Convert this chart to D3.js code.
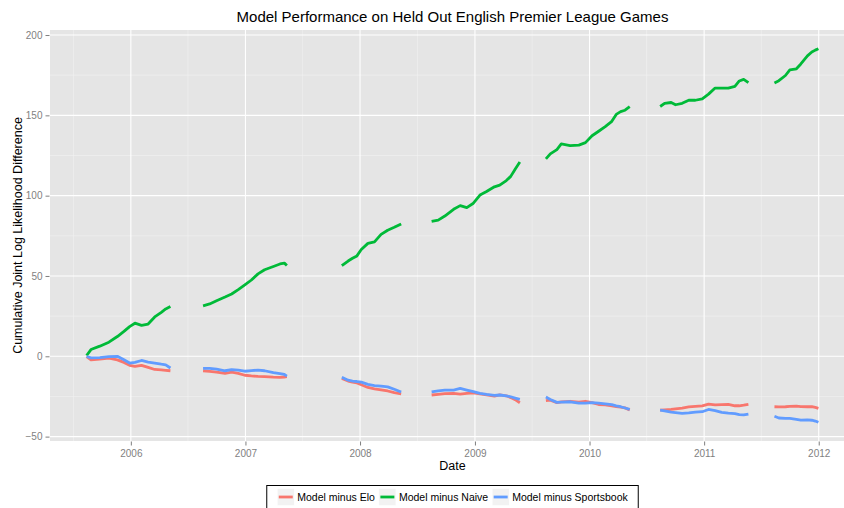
<!DOCTYPE html>
<html>
<head>
<meta charset="utf-8">
<script src="https://cdn.jsdelivr.net/npm/d3@7"></script>
<style>
  html, body { margin: 0; padding: 0; background: #ffffff; }
  svg { display: block; font-family: "Liberation Sans", Arial, Helvetica, sans-serif; }
</style>
</head>
<body>
<svg id="chart" width="844" height="508"></svg>
<script>
// ---------------- data ----------------
const seriesNames = ["Model minus Elo", "Model minus Naive", "Model minus Sportsbook"];
const seriesColors = ["#F8766D", "#00BA38", "#619CFF"];

const dates = [
  // 2005-06
  "2005-08-13","2005-08-27","2005-09-24","2005-10-23","2005-11-19","2005-12-10","2005-12-28",
  "2006-01-14","2006-02-04","2006-02-25","2006-03-18","2006-04-08","2006-04-22","2006-05-07",
  // 2006-07
  "2006-08-19","2006-09-09","2006-10-01","2006-10-28","2006-11-18","2006-12-09","2006-12-30",
  "2007-01-20","2007-02-10","2007-03-03","2007-03-31","2007-04-21","2007-05-05","2007-05-13",
  // 2007-08
  "2007-11-04","2007-11-24","2007-12-08","2007-12-22","2008-01-05","2008-01-26","2008-02-16",
  "2008-03-08","2008-03-29","2008-04-19","2008-05-11",
  // 2008-09
  "2008-08-16","2008-09-06","2008-09-27","2008-10-25","2008-11-15","2008-12-06","2008-12-27",
  "2009-01-17","2009-02-07","2009-03-04","2009-03-21","2009-04-11","2009-04-25","2009-05-09","2009-05-24",
  // 2009-10
  "2009-08-15","2009-08-29","2009-09-19","2009-10-03","2009-10-31","2009-11-28","2009-12-19",
  "2010-01-09","2010-01-30","2010-02-20","2010-03-13","2010-03-27","2010-04-10","2010-04-24","2010-05-09",
  // 2010-11
  "2010-08-14","2010-08-28","2010-09-18","2010-10-02","2010-10-23","2010-11-13","2010-12-04","2010-12-26",
  "2011-01-15","2011-02-05","2011-02-26","2011-03-19","2011-04-09","2011-04-23","2011-05-07","2011-05-22",
  // 2011-12
  "2011-08-13","2011-08-27","2011-09-17","2011-10-01","2011-10-22","2011-11-05","2011-11-26",
  "2011-12-10","2011-12-21","2011-12-31"
];

const season = [
  1,1,1,1,1,1,1,1,1,1,1,1,1,1,
  2,2,2,2,2,2,2,2,2,2,2,2,2,2,
  3,3,3,3,3,3,3,3,3,3,3,
  4,4,4,4,4,4,4,4,4,4,4,4,4,4,4,
  5,5,5,5,5,5,5,5,5,5,5,5,5,5,5,
  6,6,6,6,6,6,6,6,6,6,6,6,6,6,6,6,
  7,7,7,7,7,7,7,7,7,7
];

const eloDiff = [
  -0.2,-2.2,-1.7,-1.2,-2.2,-3.8,-5.6,-6.3,-5.6,-6.9,-8.2,-8.4,-8.7,-9.0,
  -9.0,-9.4,-9.9,-10.6,-9.8,-10.6,-11.8,-12.2,-12.5,-12.7,-13.0,-13.1,-12.9,-12.7,
  -13.8,-15.4,-16.1,-16.6,-17.7,-19.4,-20.3,-20.9,-21.6,-22.6,-23.4,
  -24.1,-23.7,-23.3,-23.1,-23.5,-23.1,-22.7,-23.4,-24.0,-24.8,-24.0,-24.6,-25.7,-27.0,-28.9,
  -27.6,-27.3,-28.9,-28.4,-28.0,-28.6,-28.0,-28.8,-30.0,-30.3,-30.9,-31.3,-31.6,-32.1,-33.4,
  -33.5,-33.3,-33.1,-32.7,-32.2,-31.5,-31.2,-30.8,-29.8,-30.3,-30.1,-29.9,-30.8,-30.8,-30.4,-29.9,
  -31.4,-31.5,-31.4,-31.2,-31.0,-31.3,-31.4,-31.3,-31.8,-32.4
];

const naiveDiff = [
  0.5,4.2,6.3,8.8,12.3,15.5,18.5,20.6,19.3,20.1,24.5,27.4,29.5,31.0,
  31.4,32.6,34.6,36.9,38.8,41.5,44.4,47.5,51.3,53.9,55.9,57.5,58.0,56.5,
  56.4,59.3,61.0,62.5,66.5,70.3,71.2,75.9,78.5,80.3,82.4,
  84.0,84.8,87.3,91.5,93.8,92.6,95.3,100.4,102.6,105.5,106.6,109.4,112.0,116.5,121.0,
  122.9,126.0,128.7,132.2,131.2,131.5,133.0,137.3,140.1,143.0,146.3,150.6,152.3,153.2,155.4,
  155.5,157.4,158.0,156.6,157.5,159.4,159.4,160.3,163.2,167.0,166.9,166.9,168.0,171.4,172.4,170.4,
  170.2,171.6,174.8,178.3,179.0,182.0,187.0,189.4,190.6,191.5
];

const sportsbookDiff = [
  -0.1,-1.0,-0.8,-0.2,0.0,-2.2,-4.2,-3.8,-2.6,-3.6,-4.2,-4.9,-5.3,-7.3,
  -7.5,-7.5,-8.0,-9.0,-8.3,-8.6,-9.3,-8.9,-8.6,-9.0,-10.2,-10.8,-11.3,-12.3,
  -13.1,-14.9,-15.5,-15.7,-16.1,-17.5,-18.2,-18.6,-19.0,-20.5,-22.2,
  -22.1,-21.5,-21.0,-21.0,-20.0,-21.0,-22.0,-23.1,-23.7,-24.3,-24.1,-24.6,-25.2,-26.0,-26.8,
  -25.4,-26.9,-28.7,-28.5,-28.3,-29.2,-29.1,-28.9,-29.2,-29.6,-30.1,-30.8,-31.4,-32.2,-33.0,
  -33.5,-34.0,-34.7,-35.0,-35.5,-35.2,-34.8,-34.5,-33.1,-33.8,-34.9,-35.4,-35.7,-36.3,-36.5,-36.0,
  -37.3,-38.4,-38.6,-38.7,-39.2,-39.7,-39.6,-39.8,-40.3,-41.1
];

const yTicks = [-50, 0, 50, 100, 150, 200];
const yMinor = [-25, 25, 75, 125, 175];
const xTickYears = [2006, 2007, 2008, 2009, 2010, 2011, 2012];

// ---------------- layout ----------------
const svg = d3.select("#chart");
const panel = { left: 50, top: 30, right: 855, bottom: 441 };

const parse = d3.utcParse("%Y-%m-%d");
const dateObjs = dates.map(parse);
const allSeries = [eloDiff, naiveDiff, sportsbookDiff];

// ggplot-style 5% expansion
const tExt = d3.extent(dateObjs);
const tPad = (tExt[1] - tExt[0]) * 0.05;
const x = d3.scaleUtc()
  .domain([new Date(+tExt[0] - tPad), new Date(+tExt[1] + tPad)])
  .range([panel.left, panel.right]);

const vals = allSeries.flat();
const vExt = d3.extent(vals);
const vPad = (vExt[1] - vExt[0]) * 0.05;
const y = d3.scaleLinear()
  .domain([vExt[0] - vPad, vExt[1] + vPad])
  .range([panel.bottom, panel.top]);

const xTicks = xTickYears.map(yr => new Date(Date.UTC(yr, 0, 1)));
const xMinor = d3.range(2005, 2013).map(yr => new Date(Date.UTC(yr, 6, 2)));

// clip for panel
svg.append("defs").append("clipPath").attr("id", "clip")
  .append("rect")
  .attr("x", panel.left).attr("y", panel.top)
  .attr("width", panel.right - panel.left).attr("height", panel.bottom - panel.top);

// panel background
svg.append("rect")
  .attr("x", panel.left).attr("y", panel.top)
  .attr("width", panel.right - panel.left).attr("height", panel.bottom - panel.top)
  .attr("fill", "#E5E5E5");

const grid = svg.append("g").attr("clip-path", "url(#clip)");
// minor grid
grid.selectAll(".ymin").data(yMinor).join("line")
  .attr("x1", panel.left).attr("x2", panel.right)
  .attr("y1", d => y(d)).attr("y2", d => y(d))
  .attr("stroke", "#F2F2F2").attr("stroke-width", 0.6);
grid.selectAll(".xmin").data(xMinor).join("line")
  .attr("y1", panel.top).attr("y2", panel.bottom)
  .attr("x1", d => x(d)).attr("x2", d => x(d))
  .attr("stroke", "#F2F2F2").attr("stroke-width", 0.6);
// major grid
grid.selectAll(".ymaj").data(yTicks).join("line")
  .attr("x1", panel.left).attr("x2", panel.right)
  .attr("y1", d => y(d)).attr("y2", d => y(d))
  .attr("stroke", "#FFFFFF").attr("stroke-width", 1.1);
grid.selectAll(".xmaj").data(xTicks).join("line")
  .attr("y1", panel.top).attr("y2", panel.bottom)
  .attr("x1", d => x(d)).attr("x2", d => x(d))
  .attr("stroke", "#FFFFFF").attr("stroke-width", 1.1);

// ---------------- lines ----------------
const line = d3.line()
  .x(d => x(d.date))
  .y(d => y(d.value));

const seasons = Array.from(new Set(season));
const linesG = svg.append("g").attr("clip-path", "url(#clip)");
allSeries.forEach((arr, si) => {
  seasons.forEach(s => {
    const pts = dateObjs.map((dt, i) => ({ date: dt, value: arr[i], s: season[i] }))
      .filter(p => p.s === s);
    linesG.append("path")
      .datum(pts)
      .attr("d", line)
      .attr("fill", "none")
      .attr("stroke", seriesColors[si])
      .attr("stroke-width", 2.8)
      .attr("stroke-linejoin", "round")
      .attr("stroke-linecap", "butt");
  });
});

// ---------------- axes ----------------
const yAxis = d3.axisLeft(y).tickValues(yTicks).tickSize(4).tickPadding(3)
  .tickFormat(d => d < 0 ? "\u2212" + Math.abs(d) : d);
const gy = svg.append("g").attr("transform", `translate(${panel.left - 0.5},0)`).call(yAxis);
gy.select(".domain").remove();
gy.selectAll(".tick line").attr("stroke", "#7F7F7F");
gy.selectAll(".tick text").attr("fill", "#7F7F7F").style("font-size", "10px")
  .style("font-family", "Liberation Sans, Arial, sans-serif");

const xAxis = d3.axisBottom(x).tickValues(xTicks).tickSize(4).tickPadding(4)
  .tickFormat(d3.utcFormat("%Y"));
const gx = svg.append("g").attr("transform", `translate(0,${panel.bottom + 0.5})`).call(xAxis);
gx.select(".domain").remove();
gx.selectAll(".tick line").attr("stroke", "#7F7F7F");
gx.selectAll(".tick text").attr("fill", "#7F7F7F").style("font-size", "10px")
  .style("font-family", "Liberation Sans, Arial, sans-serif");

// ---------------- titles ----------------
const cx = (panel.left + panel.right) / 2;
svg.append("text")
  .attr("x", cx).attr("y", 22)
  .attr("text-anchor", "middle")
  .style("font-size", "15px")
  .attr("fill", "#000")
  .text("Model Performance on Held Out English Premier League Games");

svg.append("text")
  .attr("x", cx).attr("y", 470)
  .attr("text-anchor", "middle")
  .style("font-size", "12.5px")
  .attr("fill", "#000")
  .text("Date");

svg.append("text")
  .attr("transform", `translate(21.5,${(panel.top + panel.bottom) / 2}) rotate(-90)`)
  .attr("text-anchor", "middle")
  .style("font-size", "12.5px")
  .attr("fill", "#000")
  .text("Cumulative Joint Log Likelihood Difference");

// ---------------- legend ----------------
const lg = svg.append("g");
const keySize = 17;
const keyTop = 488.5;
const items = [];
let cursor = 0;
const itemG = lg.append("g");
seriesNames.forEach((name, i) => {
  const g = itemG.append("g");
  g.append("rect").attr("x", cursor).attr("y", keyTop)
    .attr("width", keySize).attr("height", keySize)
    .attr("fill", "#F2F2F2").attr("stroke", "#FFFFFF").attr("stroke-width", 0.5);
  g.append("line")
    .attr("x1", cursor + 1.5).attr("x2", cursor + keySize - 1.5)
    .attr("y1", keyTop + keySize / 2).attr("y2", keyTop + keySize / 2)
    .attr("stroke", seriesColors[i]).attr("stroke-width", 2.8);
  const t = g.append("text")
    .attr("x", cursor + keySize + 3)
    .attr("y", keyTop + keySize / 2 + 3.8)
    .style("font-size", "10.5px")
    .attr("fill", "#000")
    .text(name);
  const w = t.node().getComputedTextLength();
  cursor += keySize + 3 + w + 4;
});
const legendWidth = cursor - 4;
const legendLeft = cx - legendWidth / 2;
itemG.attr("transform", `translate(${legendLeft},0)`);
lg.insert("rect", ":first-child")
  .attr("x", legendLeft - 10.5).attr("y", 485.5)
  .attr("width", legendWidth + 21).attr("height", 30)
  .attr("fill", "#FFFFFF").attr("stroke", "#000").attr("stroke-width", 1);
</script>
</body>
</html>
